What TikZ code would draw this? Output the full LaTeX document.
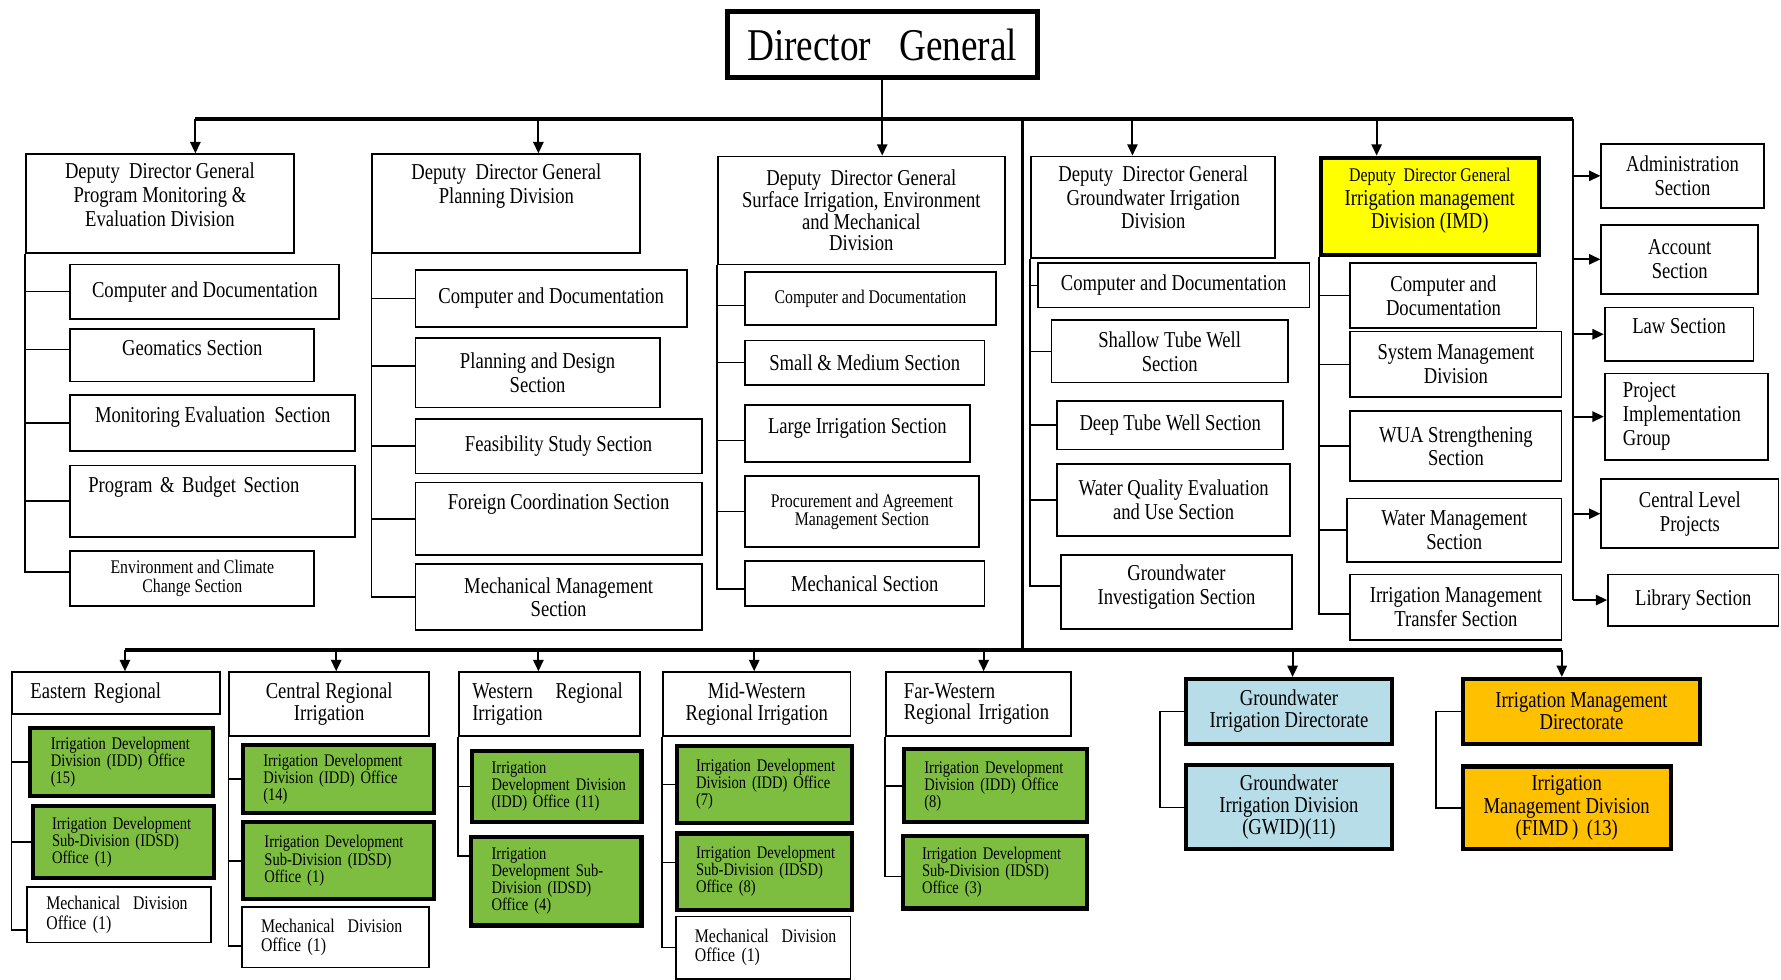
\documentclass[tikz,border=0pt]{standalone}
\usepackage{fontspec}
\setmainfont{Liberation Serif}[FakeStretch=0.82]
\usetikzlibrary{arrows.meta}
\definecolor{gfill}{RGB}{125,190,65}
\definecolor{bfill}{RGB}{183,221,232}
\definecolor{ofill}{RGB}{255,192,0}
\definecolor{yfill}{RGB}{255,255,0}
\newcommand\nohy{\hyphenpenalty=10000\exhyphenpenalty=10000\relax}
\newcommand\bx[7]{\node[#6, anchor=north west, minimum width={(#4-#2)*0.5pt}, minimum height={(#5-#3)*0.5pt}] (#1) at (#2,#3) {#7};}
\tikzset{
  box/.style={draw, line width=0.8pt, inner xsep=2pt, inner ysep=1pt, align=center, font=\fontsize{10}{10.5}\selectfont\nohy},
  sbox/.style={box, font=\fontsize{8.5}{8.5}\selectfont\nohy},
  dgbox/.style={draw, line width=2.2pt, inner sep=1pt, font=\fontsize{20}{22}\selectfont},
  ybox/.style={box, fill=yfill, line width=1.8pt},
  gbox/.style={box, fill=gfill, line width=1.8pt, align=left, font=\fontsize{7.8}{7.5}\selectfont\nohy},
  mbox/.style={box, align=left, font=\fontsize{8.5}{8.5}\selectfont\nohy},
  bbox/.style={box, fill=bfill, line width=1.8pt, font=\fontsize{10}{9.75}\selectfont\nohy},
  obox/.style={box, fill=ofill, line width=1.8pt, font=\fontsize{10}{9.75}\selectfont\nohy},
  ln/.style={line width=0.7pt},
  bus/.style={line width=1.8pt},
  vbus/.style={line width=1.1pt},
  arr/.style={line width=0.9pt, -{Triangle[length=5pt,width=4.5pt]}}
}
\begin{document}
\begin{tikzpicture}[x=0.5pt, y=-0.5pt]
\useasboundingbox (0,0) rectangle (1568,862);
% Director General
\bx{dg}{638}{8}{911}{66}{dgbox}{Director\ \ \ General}
% Deputy Director Generals
\bx{ddg1}{22}{135}{258}{222}{box, text depth=7.7pt}{Deputy\ \ Director General\\Program Monitoring \&\\Evaluation Division}
\bx{ddg2}{327}{135}{563}{222}{box, text depth=17.7pt}{Deputy\ \ Director General\\Planning Division}
\bx{ddg3}{631}{137}{884}{232}{box, font=\fontsize{10}{9.5}\selectfont}{Deputy\ \ Director General\\Surface Irrigation, Environment\\and Mechanical\\Division}
\bx{ddg4}{907}{137}{1122}{226}{box, text depth=8.7pt}{Deputy\ \ Director General\\Groundwater Irrigation\\Division}
\bx{ddg5}{1161}{137}{1353}{223}{ybox, text depth=7.2pt}{{\fontsize{8.5}{9}\selectfont Deputy\ \ Director General}\\Irrigation management\\Division (IMD)}
% Right column
\bx{r1}{1409}{126}{1552}{182}{box}{Administration\\Section}
\bx{r2}{1409}{197}{1547}{258}{box}{Account\\Section}
\bx{r3}{1412}{270}{1543}{317}{box, text depth=7.7pt}{Law Section}
\bx{r4}{1412}{328}{1556}{404}{box, align=left, text width=56pt}{Project\\Implementation\\Group}
\bx{r5}{1409}{421}{1565}{482}{box}{Central Level\\Projects}
\bx{r6}{1415}{505}{1565}{550}{box}{Library Section}
% Column 1
\bx{c1a}{61}{232}{298}{280}{box}{Computer and Documentation}
\bx{c1b}{61}{289}{276}{335}{box, text depth=6.2pt}{Geomatics Section}
\bx{c1c}{61}{347}{312}{396}{box, text depth=7.7pt}{Monitoring Evaluation\ \ Section}
\bx{c1d}{61}{409}{312}{472}{box, align=left, text width=109.5pt, text depth=14.7pt}{Program \& Budget Section}
\bx{c1e}{61}{484}{276}{533}{sbox}{Environment and Climate\\Change Section}
% Column 2
\bx{c2a}{365}{237}{604}{287}{box}{Computer and Documentation}
\bx{c2b}{365}{297}{580}{358}{box}{Planning and Design\\Section}
\bx{c2c}{365}{368}{617}{416}{box}{Feasibility Study Section}
\bx{c2d}{365}{424}{617}{488}{box, text depth=15.2pt}{Foreign Coordination Section}
\bx{c2e}{365}{496}{617}{554}{box}{Mechanical Management\\Section}
% Column 3
\bx{c3a}{655}{239}{876}{285}{sbox}{Computer and Documentation}
\bx{c3b}{655}{299}{866}{338}{box}{Small \& Medium Section}
\bx{c3c}{655}{356}{853}{406}{box, text depth=7.2pt}{Large Irrigation Section}
\bx{c3d}{655}{418}{861}{481}{sbox, font=\fontsize{8.5}{8}\selectfont}{Procurement and Agreement\\Management Section}
\bx{c3e}{655}{493}{866}{533}{box}{Mechanical Section}
% Column 4
\bx{c4a}{913}{231}{1152}{270}{box}{Computer and Documentation}
\bx{c4b}{925}{281}{1133}{336}{box}{Shallow Tube Well\\Section}
\bx{c4c}{930}{352}{1129}{395}{box}{Deep Tube Well Section}
\bx{c4d}{930}{408}{1135}{471}{box}{Water Quality Evaluation\\and Use Section}
\bx{c4e}{933}{488}{1137}{553}{box, text depth=6.7pt}{Groundwater\\Investigation Section}
% Column 5
\bx{c5a}{1188}{231}{1352}{288}{box}{Computer and\\Documentation}
\bx{c5b}{1188}{291}{1374}{349}{box}{System Management\\Division}
\bx{c5c}{1188}{361}{1374}{423}{box}{WUA Strengthening\\Section}
\bx{c5d}{1185}{438}{1374}{494}{box}{Water Management\\Section}
\bx{c5e}{1188}{505}{1374}{563}{box}{Irrigation Management\\Transfer Section}
% Regional row
\bx{reg1}{10}{591}{193}{628}{box, align=left, text width=75.5pt}{Eastern Regional}
\bx{reg2}{201}{591}{377}{647}{box, font=\fontsize{10}{9.5}\selectfont}{Central Regional\\Irrigation}
\bx{reg3}{403}{591}{563}{647}{box, align=left, text width=68pt, font=\fontsize{10}{9.5}\selectfont}{Western~~~Regional\\Irrigation}
\bx{reg4}{583}{591}{748}{647}{box, font=\fontsize{10}{9.5}\selectfont}{Mid-Western\\Regional Irrigation}
\bx{reg5}{779}{591}{942}{647}{box, align=left, text width=65.5pt, font=\fontsize{10}{9.5}\selectfont}{Far-Western\\Regional~Irrigation}
\bx{gwd}{1042}{596}{1224}{653}{bbox}{Groundwater\\Irrigation Directorate}
\bx{imdd}{1286}{596}{1495}{653}{obox}{Irrigation Management\\Directorate}
% Eastern
\bx{e1}{25}{639}{186}{699}{gbox, text width=62.5pt}{Irrigation~Development\\Division~(IDD)~Office\\(15)}
\bx{e2}{27}{708}{187}{771}{gbox, text width=63pt}{Irrigation~Development\\Sub-Division~(IDSD)\\Office~(1)}
\bx{e3}{23}{780}{185}{829}{mbox, text width=64pt}{Mechanical~~Division\\Office~(1)}
% Central
\bx{ce1}{212}{654}{380}{714}{gbox, text width=66pt}{Irrigation~Development\\Division~(IDD)~Office\\(14)}
\bx{ce2}{212}{722}{380}{790}{gbox, text width=65pt}{Irrigation~Development\\Sub-Division~(IDSD)\\Office~(1)}
\bx{ce3}{212}{798}{377}{851}{mbox, text width=65.5pt}{Mechanical~~Division\\Office~(1)}
% Western
\bx{w1}{414}{659}{563}{722}{gbox, text width=57.5pt}{Irrigation\\Development~Division\\(IDD)~Office~(11)}
\bx{w2}{413}{735}{563}{813}{gbox, text width=57pt}{Irrigation\\Development~Sub-\\Division~(IDSD)\\Office~(4)}
% Mid-Western
\bx{m1}{594}{655}{748}{723}{gbox, text width=60pt}{Irrigation~Development\\Division~(IDD)~Office\\(7)}
\bx{m2}{594}{732}{748}{799}{gbox, text width=60pt}{Irrigation~Development\\Sub-Division~(IDSD)\\Office~(8)}
\bx{m3}{594}{806}{748}{861}{mbox, text width=60pt}{Mechanical~~Division\\Office~(1)}
% Far-Western
\bx{f1}{794}{658}{955}{722}{gbox, text width=62.5pt}{Irrigation~Development\\Division~(IDD)~Office\\(8)}
\bx{f2}{793}{734}{955}{798}{gbox, text width=64pt}{Irrigation~Development\\Sub-Division~(IDSD)\\Office~(3)}
% Groundwater / IM divisions
\bx{gwid}{1042}{672}{1224}{746}{bbox}{Groundwater\\Irrigation Division\\(GWID)(11)}
\bx{fimd}{1286}{673}{1469}{746}{obox}{Irrigation\\Management Division\\(FIMD\,)\ \,(13)}

% ---- connectors ----
\coordinate (b1) at (172,105);
\coordinate (b2) at (474,105);
\coordinate (b4) at (997,105);
\coordinate (b5) at (1212,105);
\coordinate (bR) at (1385,105);
\coordinate (mt) at (900,105);
\coordinate (mb) at (900,572);
\coordinate (l1) at (110,572);
\coordinate (l2) at (296,572);
\coordinate (l3) at (474,572);
\coordinate (l4) at (664,572);
\coordinate (l5) at (866,572);
\coordinate (l6) at (1138,572);
\coordinate (l7) at (1375,572);
\draw[bus] (b1) -- (bR);
\draw[vbus] (bR) -- (bR |- r6.west);
\draw[vbus] (mt) -- (mb);
\draw[bus] (l1) -- (l7);
\draw[arr] (dg.south) -- (dg.south |- ddg3.north);
\draw[arr] (b1) -- (b1 |- ddg1.north);
\draw[arr] (b2) -- (b2 |- ddg2.north);
\draw[arr] (b4) -- (b4 |- ddg4.north);
\draw[arr] (b5) -- (b5 |- ddg5.north);
\foreach \r in {r1,r2,r3,r4,r5,r6} \draw[arr] (\r.west -| bR) -- (\r.west);
\draw[arr] (l1) -- (l1 |- reg1.north);
\draw[arr] (l2) -- (l2 |- reg2.north);
\draw[arr] (l3) -- (l3 |- reg3.north);
\draw[arr] (l4) -- (l4 |- reg4.north);
\draw[arr] (l5) -- (l5 |- reg5.north);
\draw[arr] (l6) -- (l6 |- gwd.north);
\draw[arr] (l7) -- (l7 |- imdd.north);
% section trees
\foreach \c in {c1a,c1c,c1d} \draw[ln] (ddg1.south west) |- (\c.west);
\draw[ln] (ddg1.south west) |- ([yshift=2.5pt]c1b.west);
\draw[ln] (ddg1.south west) |- ([yshift=2.75pt]c1e.west);
\foreach \c in {c2a,c2c,c2d,c2e} \draw[ln] (ddg2.south west) |- (\c.west);
\draw[ln] (ddg2.south west) |- ([yshift=3pt]c2b.west);
\foreach \c in {c3b,c3d} \draw[ln] (ddg3.south west) |- (\c.west);
\draw[ln] (ddg3.south west) |- ([yshift=-3pt]c3a.west);
\draw[ln] (ddg3.south west) |- ([yshift=-3pt]c3c.west);
\draw[ln] (ddg3.south west) |- ([yshift=-2.5pt]c3e.west);
\foreach \c in {c4a,c4b,c4c,c4d} \draw[ln] (ddg4.south west) |- (\c.west);
\draw[ln] (ddg4.south west) |- ([yshift=2.75pt]c4e.west);
\foreach \c in {c5a,c5b,c5c,c5d} \draw[ln] (ddg5.south west) |- (\c.west);
\draw[ln] (ddg5.south west) |- ([yshift=-3pt]c5e.west);
% regional trees
\foreach \c in {e1,e2} \draw[ln] (reg1.south west) |- (\c.west);
\draw[ln] (reg1.south west) |- ([yshift=-6.75pt]e3.west);
\foreach \c in {ce1,ce2} \draw[ln] (reg2.south west) |- (\c.west);
\draw[ln] (reg2.south west) |- ([yshift=-3.75pt]ce3.west);
\draw[ln] (reg3.south west) |- (w1.west);
\draw[ln] (reg3.south west) |- ([yshift=11pt]w2.west);
\foreach \c in {m1,m3} \draw[ln] (reg4.south west) |- (\c.west);
\draw[ln] (reg4.south west) |- ([yshift=4pt]m2.west);
\draw[ln] (reg5.south west) |- (f1.west);
\draw[ln] (reg5.south west) |- ([yshift=-2pt]f2.west);
\draw[ln] (gwd.west) -- ++(-21,0) |- (gwid.west);
\draw[ln] (imdd.west) -- ++(-22,0) |- (fimd.west);
\end{tikzpicture}
\end{document}
